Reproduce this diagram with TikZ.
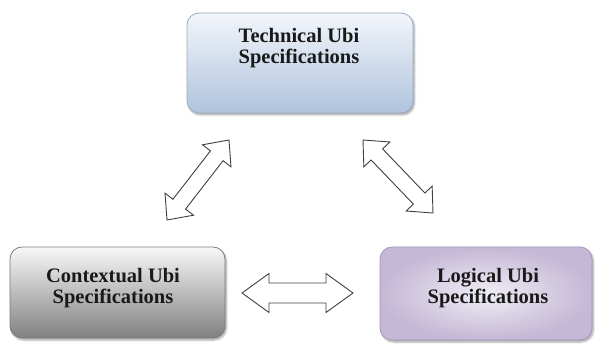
\documentclass[tikz,border=0pt]{standalone}
\usepackage{fontspec}
\setmainfont{Liberation Serif}
\usetikzlibrary{calc,shadows.blur}

% double-headed block arrow between two named points
% #1,#2 ends; #3 shaft half width; #4 head length; #5 head half width
\newcommand\drawdblarrow[5]{%
  \draw[arrowline]
    (#1) -- ($(#1)!#4!(#2)!#5!90:(#2)$) -- ($(#1)!#4!(#2)!#3!90:(#2)$)
    -- ($(#2)!#4!(#1)!#3!-90:(#1)$) -- ($(#2)!#4!(#1)!#5!-90:(#1)$) -- (#2)
    -- ($(#2)!#4!(#1)!#5!90:(#1)$) -- ($(#2)!#4!(#1)!#3!90:(#1)$)
    -- ($(#1)!#4!(#2)!#3!-90:(#2)$) -- ($(#1)!#4!(#2)!#5!-90:(#2)$) -- cycle;
}

\definecolor{techtop}{HTML}{F3F6FB}
\definecolor{techbot}{HTML}{AFC3DD}
\definecolor{techline}{HTML}{9AAAC0}
\definecolor{ctxtop}{HTML}{F8F8F8}
\definecolor{ctxbot}{HTML}{808080}
\definecolor{ctxline}{HTML}{7C7C7C}
\definecolor{loginner}{HTML}{F0EDF5}
\definecolor{logouter}{HTML}{C4B8D6}
\definecolor{logline}{HTML}{A698BC}

\begin{document}
\begin{tikzpicture}[x=1pt,y=-1pt,
  specbox/.style={rectangle, rounded corners=12pt, line width=0.8pt,
    blur shadow={shadow xshift=1.5pt, shadow yshift=-2pt,
      shadow blur steps=6, shadow opacity=35}},
  spectext/.style={font=\bfseries\fontsize{20.5}{20.5}\selectfont,
    align=center, text=black!90, inner sep=0pt},
  arrowline/.style={draw=black!75, line width=0.9pt, fill=white,
    line join=miter}
]
\useasboundingbox (0,0) rectangle (595,347);

% boxes
\node[specbox, draw=techline, top color=techtop, bottom color=techbot,
  minimum width=226pt, minimum height=100pt] (tech) at (300,63) {};
\node[specbox, draw=ctxline, top color=ctxtop, bottom color=ctxbot,
  minimum width=215pt, minimum height=91pt] (ctx) at (117.5,292.5) {};
\node[specbox, draw=logline, shading=radial, inner color=loginner,
  outer color=logouter,
  minimum width=212pt, minimum height=93pt] (log) at (486,293.5) {};

% labels
\node[spectext] (techtxt) at (299,48) {Technical Ubi\\Specifications};
\node[spectext] (ctxtxt) at (113,288) {Contextual Ubi\\Specifications};
\node[spectext] (logtxt) at (488,288) {Logical Ubi\\Specifications};

% arrow end points
\coordinate (la) at (167,220);
\coordinate (lb) at (229,140);
\coordinate (ra) at (363,140);
\coordinate (rb) at (433,213);
\coordinate (ha) at (242,293);
\coordinate (hb) at (353,293);

\drawdblarrow{la}{lb}{8pt}{20pt}{18pt}
\drawdblarrow{ra}{rb}{8pt}{20pt}{18pt}
\drawdblarrow{ha}{hb}{10pt}{27pt}{19.5pt}
\end{tikzpicture}
\end{document}
